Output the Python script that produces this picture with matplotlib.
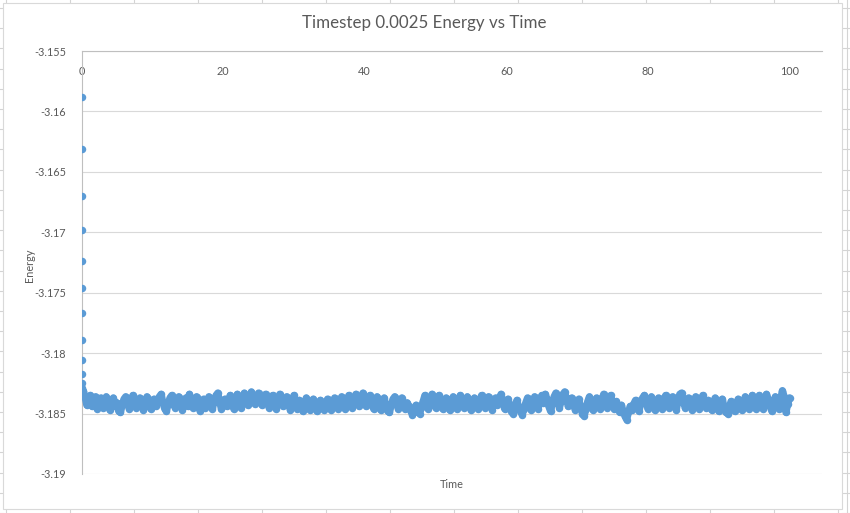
import numpy as np
import matplotlib.pyplot as plt
from matplotlib.lines import Line2D
from matplotlib.patches import Rectangle

# start-up points (all sit at t ~ 0, timestep 0.0025)
start_energy = [-3.15881, -3.16311, -3.16700, -3.16982, -3.17236, -3.17464,
                -3.17671, -3.17892, -3.18058, -3.18174, -3.18251, -3.18290,
                -3.18323]
start_step = 0.0025

# equilibrated part, read every 0.25 time units from t = 0.25 to t = 100
band_step = 0.25
band_energy = [
    -3.1831, -3.1836, -3.1843, -3.1838, -3.1835, -3.1844, -3.1840, -3.1836, -3.1846, -3.1841,
    -3.1837, -3.1845, -3.1839, -3.1836, -3.1843, -3.1847, -3.1840, -3.1837, -3.1844, -3.1841,
    -3.1848, -3.1849, -3.1843, -3.1838, -3.1836, -3.1842, -3.1846, -3.1840, -3.1835, -3.1839,
    -3.1845, -3.1841, -3.1837, -3.1843, -3.1847, -3.1840, -3.1836, -3.1842, -3.1846, -3.1839,
    -3.1838, -3.1844, -3.1840, -3.1836, -3.1834, -3.1841, -3.1846, -3.1848, -3.1842, -3.1837,
    -3.1835, -3.1843, -3.1845, -3.1839, -3.1836, -3.1842, -3.1847, -3.1841, -3.1837, -3.1844,
    -3.1834, -3.1839, -3.1845, -3.1841, -3.1836, -3.1843, -3.1848, -3.1842, -3.1838, -3.1845,
    -3.1840, -3.1836, -3.1843, -3.1846, -3.1839, -3.1835, -3.1833, -3.1840, -3.1846, -3.1842,
    -3.1838, -3.1844, -3.1840, -3.1835, -3.1841, -3.1846, -3.1839, -3.1834, -3.1840, -3.1845,
    -3.1838, -3.1833, -3.1837, -3.1843, -3.1839, -3.1832, -3.1836, -3.1842, -3.1838, -3.1833,
    -3.1837, -3.1843, -3.1838, -3.1834, -3.1840, -3.1845, -3.1839, -3.1835, -3.1841, -3.1846,
    -3.1840, -3.1834, -3.1838, -3.1844, -3.1841, -3.1836, -3.1842, -3.1847, -3.1840, -3.1835,
    -3.1841, -3.1846, -3.1839, -3.1843, -3.1848, -3.1842, -3.1837, -3.1844, -3.1847, -3.1840,
    -3.1838, -3.1845, -3.1848, -3.1842, -3.1839, -3.1845, -3.1847, -3.1841, -3.1838, -3.1844,
    -3.1847, -3.1841, -3.1837, -3.1843, -3.1846, -3.1839, -3.1836, -3.1842, -3.1846, -3.1840,
    -3.1835, -3.1841, -3.1845, -3.1838, -3.1834, -3.1840, -3.1844, -3.1837, -3.1833, -3.1839,
    -3.1844, -3.1838, -3.1835, -3.1841, -3.1846, -3.1840, -3.1836, -3.1843, -3.1847, -3.1841,
    -3.1837, -3.1844, -3.1848, -3.1849, -3.1843, -3.1838, -3.1836, -3.1842, -3.1846, -3.1840,
    -3.1837, -3.1843, -3.1846, -3.1841, -3.1844, -3.1848, -3.1851, -3.1846, -3.1843, -3.1849,
    -3.1850, -3.1845, -3.1840, -3.1835, -3.1841, -3.1846, -3.1839, -3.1834, -3.1840, -3.1845,
    -3.1840, -3.1835, -3.1841, -3.1846, -3.1842, -3.1837, -3.1843, -3.1847, -3.1840, -3.1836,
    -3.1842, -3.1846, -3.1839, -3.1835, -3.1841, -3.1845, -3.1840, -3.1836, -3.1843, -3.1847,
    -3.1841, -3.1837, -3.1843, -3.1846, -3.1840, -3.1835, -3.1839, -3.1845, -3.1841, -3.1836,
    -3.1842, -3.1847, -3.1840, -3.1837, -3.1843, -3.1838, -3.1834, -3.1840, -3.1846, -3.1842,
    -3.1838, -3.1844, -3.1849, -3.1850, -3.1843, -3.1839, -3.1845, -3.1848, -3.1851, -3.1846,
    -3.1841, -3.1837, -3.1843, -3.1847, -3.1840, -3.1836, -3.1842, -3.1846, -3.1839, -3.1835,
    -3.1841, -3.1834, -3.1838, -3.1844, -3.1848, -3.1842, -3.1836, -3.1833, -3.1839, -3.1845,
    -3.1840, -3.1834, -3.1832, -3.1838, -3.1844, -3.1841, -3.1837, -3.1843, -3.1847, -3.1840,
    -3.1838, -3.1845, -3.1850, -3.1852, -3.1846, -3.1840, -3.1836, -3.1842, -3.1847, -3.1841,
    -3.1837, -3.1843, -3.1846, -3.1839, -3.1834, -3.1840, -3.1845, -3.1839, -3.1835, -3.1841,
    -3.1846, -3.1840, -3.1844, -3.1849, -3.1843, -3.1848, -3.1852, -3.1855, -3.1849, -3.1844,
    -3.1847, -3.1842, -3.1839, -3.1845, -3.1848, -3.1841, -3.1837, -3.1835, -3.1841, -3.1846,
    -3.1840, -3.1836, -3.1842, -3.1847, -3.1841, -3.1837, -3.1843, -3.1846, -3.1839, -3.1835,
    -3.1841, -3.1845, -3.1840, -3.1836, -3.1842, -3.1847, -3.1840, -3.1834, -3.1833, -3.1839,
    -3.1845, -3.1841, -3.1837, -3.1843, -3.1847, -3.1840, -3.1836, -3.1842, -3.1846, -3.1839,
    -3.1835, -3.1841, -3.1845, -3.1839, -3.1843, -3.1847, -3.1841, -3.1837, -3.1844, -3.1848,
    -3.1842, -3.1838, -3.1844, -3.1849, -3.1850, -3.1845, -3.1840, -3.1846, -3.1848, -3.1842,
    -3.1838, -3.1844, -3.1847, -3.1841, -3.1836, -3.1842, -3.1846, -3.1840, -3.1835, -3.1841,
    -3.1846, -3.1839, -3.1835, -3.1841, -3.1846, -3.1840, -3.1834, -3.1838, -3.1844, -3.1848,
    -3.1842, -3.1836, -3.1841, -3.1846, -3.1838, -3.1831, -3.1836, -3.1849, -3.1842, -3.1837,
]

y_ticks = [-3.155, -3.16, -3.165, -3.17, -3.175, -3.18, -3.185, -3.19]
y_labels = ["-3.155", "-3.16", "-3.165", "-3.17", "-3.175", "-3.18", "-3.185", "-3.19"]
x_ticks = [0, 20, 40, 60, 80, 100]

start_time = np.arange(len(start_energy)) * start_step
band_time = np.arange(1, len(band_energy) + 1) * band_step
time = np.concatenate([start_time, band_time])
energy = np.concatenate([start_energy, band_energy])

plt.rcParams['font.family'] = ['Lato', 'DejaVu Sans']
text_col = '#595959'
blue = '#5B9BD5'

W, H = 850, 513
fig = plt.figure(figsize=(W / 100, H / 100), dpi=100)

# spreadsheet cells showing around the chart
for x in range(6, W, 64):
    fig.add_artist(Line2D([x / W, x / W], [1 - 3 / H, 1], color='#D4D4D4', lw=0.8, zorder=-20))
    fig.add_artist(Line2D([x / W, x / W], [0, 4 / H], color='#D4D4D4', lw=0.8, zorder=-20))
for k in range(26):
    y = 1 - (8 + 20.2 * k) / H
    fig.add_artist(Line2D([0, 3 / W], [y, y], color='#D4D4D4', lw=0.8, zorder=-20))
    fig.add_artist(Line2D([842 / W, 1], [y, y], color='#D4D4D4', lw=0.8, zorder=-20))
fig.add_artist(Line2D([847 / W, 847 / W], [0, 1], color='#D4D4D4', lw=0.8, zorder=-20))
fig.add_artist(Rectangle((3 / W, 4 / H), 839 / W, 506 / H, transform=fig.transFigure,
                         fill=True, facecolor='white', edgecolor='#D9D9D9', lw=0.8,
                         zorder=-10))

ax = fig.add_axes([81.5 / W, 39 / H, 741 / W, 423 / H])
ax.set_facecolor('none')
# the real run has a point every 0.0025, so the equilibrated markers merge into a ribbon
ax.plot(band_time, band_energy, linestyle='-', lw=5.2, color=blue,
        solid_joinstyle='round', solid_capstyle='round', zorder=3)
ax.plot(time, energy, linestyle='none', marker='o', ms=5.4, color=blue,
        markeredgewidth=0, zorder=3)

ax.set_xlim(0, 104.66)
ax.set_ylim(-3.19, -3.155)
ax.set_yticks(y_ticks)
ax.set_yticklabels(y_labels)
ax.set_xticks(x_ticks)
ax.xaxis.tick_top()
ax.tick_params(axis='x', length=0, pad=-15, labelsize=7.8, colors=text_col)
ax.tick_params(axis='y', length=0, pad=11, labelsize=7.8, colors=text_col)
for lab in ax.get_xticklabels():
    lab.set_verticalalignment('center')
ax.grid(axis='y', color='#D9D9D9', lw=0.8)
ax.grid(axis='x', visible=False)
for side in ['right', 'bottom']:
    ax.spines[side].set_visible(False)
ax.spines['top'].set_color('#BFBFBF')
ax.spines['left'].set_color('#BFBFBF')
ax.spines['top'].set_linewidth(0.8)
ax.spines['left'].set_linewidth(0.8)

fig.text(424 / W, 1 - 23 / H, "Timestep 0.0025 Energy vs Time", ha='center', va='center',
         fontsize=12.2, color=text_col)
fig.text(30 / W, 1 - 265 / H, "Energy", rotation=90, ha='center', va='center',
         fontsize=7.8, color=text_col)
fig.text(452 / W, 1 - 485 / H, "Time", ha='center', va='center',
         fontsize=7.8, color=text_col)

fig.savefig("out.png", dpi=100)
